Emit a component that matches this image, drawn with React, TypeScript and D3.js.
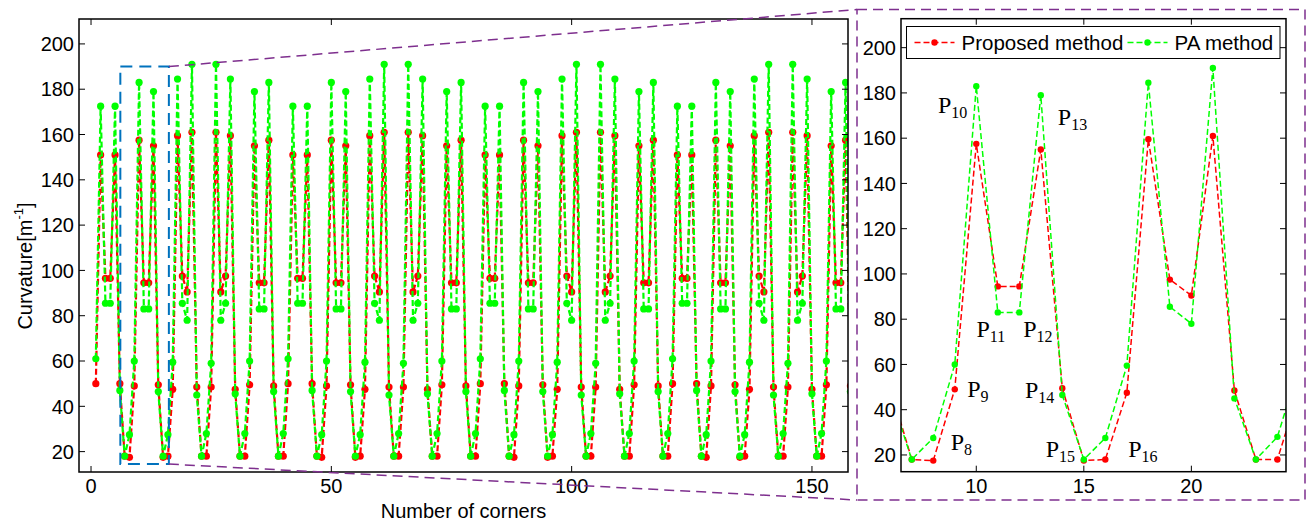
import React, { useRef, useEffect } from "react";
import * as d3 from "d3";

// curvature at every corner (corner number = index + 1)
const proposed = [
  50, 151, 96.5, 96.5, 151, 50,
  18, 17.5, 49, 157.5, 94.5, 94.5, 155, 49.5,
  17.5, 18, 47.5, 159.5, 97.5, 90.5, 161, 48.5,
  18, 18, 48.5, 161, 90.5, 97.5, 159.5, 47.5,
  18, 18, 49.5, 155, 94.5, 94.5, 157.5, 49,
  18, 18, 50, 151, 96.5, 96.5, 151, 50,
  18, 17.5, 49, 157.5, 94.5, 94.5, 155, 49.5,
  17.5, 18, 47.5, 159.5, 97.5, 90.5, 161, 48.5,
  18, 18, 48.5, 161, 90.5, 97.5, 159.5, 47.5,
  18, 18, 49.5, 155, 94.5, 94.5, 157.5, 49,
  18, 18, 50, 151, 96.5, 96.5, 151, 50,
  18, 17.5, 49, 157.5, 94.5, 94.5, 155, 49.5,
  17.5, 18, 47.5, 159.5, 97.5, 90.5, 161, 48.5,
  18, 18, 48.5, 161, 90.5, 97.5, 159.5, 47.5,
  18, 18, 49.5, 155, 94.5, 94.5, 157.5, 49,
  18, 18, 50, 151, 96.5, 96.5, 151, 50,
  18, 17.5, 49, 157.5, 94.5, 94.5, 155, 49.5,
  17.5, 18, 47.5, 159.5, 97.5, 90.5, 161, 48.5,
  18, 18, 48.5, 161, 90.5, 97.5, 159.5, 47.5,
  18, 18, 49.5, 155, 94.5, 94.5, 157.5, 49,
];

const paMethod = [
  61, 172.5, 85.5, 85.5, 172.5, 47,
  18, 27.5, 60, 183, 83, 83, 179, 46.5,
  18, 27.5, 59.5, 184.5, 85.5, 78, 191, 45,
  18, 28, 59, 191, 78, 85.5, 184.5, 45.5,
  18, 28, 60, 179, 83, 83, 183, 46.5,
  18, 28, 61, 172.5, 85.5, 85.5, 172.5, 47,
  18, 27.5, 60, 183, 83, 83, 179, 46.5,
  18, 27.5, 59.5, 184.5, 85.5, 78, 191, 45,
  18, 28, 59, 191, 78, 85.5, 184.5, 45.5,
  18, 28, 60, 179, 83, 83, 183, 46.5,
  18, 28, 61, 172.5, 85.5, 85.5, 172.5, 47,
  18, 27.5, 60, 183, 83, 83, 179, 46.5,
  18, 27.5, 59.5, 184.5, 85.5, 78, 191, 45,
  18, 28, 59, 191, 78, 85.5, 184.5, 45.5,
  18, 28, 60, 179, 83, 83, 183, 46.5,
  18, 28, 61, 172.5, 85.5, 85.5, 172.5, 47,
  18, 27.5, 60, 183, 83, 83, 179, 46.5,
  18, 27.5, 59.5, 184.5, 85.5, 78, 191, 45,
  18, 28, 59, 191, 78, 85.5, 184.5, 45.5,
  18, 28, 60, 179, 83, 83, 183, 46.5,
];

const seriesNames = ["Proposed method", "PA method"];
const seriesColors = ["#ff0000", "#00ff00"];

const yTicks = [20, 40, 60, 80, 100, 120, 140, 160, 180, 200];
const mainXTicks = [0, 50, 100, 150];
const zoomXTicks = [10, 15, 20];

// point labels in the zoomed panel (data coords)
const pointLabels = [
  { sub: "8", x: 8.81, y: 22.2 },
  { sub: "9", x: 9.58, y: 45.8 },
  { sub: "10", x: 8.22, y: 171 },
  { sub: "11", x: 10.01, y: 72.3 },
  { sub: "12", x: 12.18, y: 72.3 },
  { sub: "13", x: 13.79, y: 165.8 },
  { sub: "14", x: 12.26, y: 45.2 },
  { sub: "15", x: 13.23, y: 19.3 },
  { sub: "16", x: 17.06, y: 19.3 },
];

// area of the main plot that is blown up on the right
const zoomArea = { x0: 6.1, x1: 16.2, y0: 14.5, y1: 190 };

const sans = "'Liberation Sans', Arial, Helvetica, sans-serif";
const serif = "'Liberation Serif', 'Times New Roman', serif";

function drawPanel(svg, o) {
  const x = d3.scaleLinear().domain(o.xDomain).range([o.left, o.right]);
  const y = d3.scaleLinear().domain(o.yDomain).range([o.bottom, o.top]);
  const g = svg.append("g");

  g.append("clipPath")
    .attr("id", o.id)
    .append("rect")
    .attr("x", o.left)
    .attr("y", o.top)
    .attr("width", o.right - o.left)
    .attr("height", o.bottom - o.top);

  g.append("rect")
    .attr("x", o.left)
    .attr("y", o.top)
    .attr("width", o.right - o.left)
    .attr("height", o.bottom - o.top)
    .attr("fill", "#fff");

  const plot = g.append("g").attr("clip-path", `url(#${o.id})`);
  [proposed, paMethod].forEach((vals, k) => {
    const pts = vals.map((v, i) => [i + 1, v]);
    plot
      .append("path")
      .attr("d", d3.line().x((d) => x(d[0])).y((d) => y(d[1]))(pts))
      .attr("fill", "none")
      .attr("stroke", seriesColors[k])
      .attr("stroke-width", o.lineWidth)
      .attr("stroke-dasharray", o.dash);
    plot
      .append("g")
      .selectAll("circle")
      .data(pts)
      .join("circle")
      .attr("cx", (d) => x(d[0]))
      .attr("cy", (d) => y(d[1]))
      .attr("r", o.radius)
      .attr("fill", seriesColors[k]);
  });

  // ticks, inward on all four sides
  const ax = g.append("g").attr("stroke", "#000").attr("stroke-width", 1);
  yTicks.forEach((t) => {
    ax.append("line").attr("x1", o.left).attr("x2", o.left + 6).attr("y1", y(t)).attr("y2", y(t));
    ax.append("line").attr("x1", o.right - 6).attr("x2", o.right).attr("y1", y(t)).attr("y2", y(t));
    g.append("text")
      .attr("x", o.left - 5)
      .attr("y", y(t))
      .attr("dy", "0.36em")
      .attr("text-anchor", "end")
      .attr("font-family", sans)
      .attr("font-size", 20)
      .text(t);
  });
  o.xTicks.forEach((t) => {
    ax.append("line").attr("x1", x(t)).attr("x2", x(t)).attr("y1", o.bottom).attr("y2", o.bottom - 6);
    ax.append("line").attr("x1", x(t)).attr("x2", x(t)).attr("y1", o.top).attr("y2", o.top + 6);
    g.append("text")
      .attr("x", x(t))
      .attr("y", o.bottom + 21)
      .attr("text-anchor", "middle")
      .attr("font-family", sans)
      .attr("font-size", 20)
      .text(t);
  });

  g.append("rect")
    .attr("x", o.left)
    .attr("y", o.top)
    .attr("width", o.right - o.left)
    .attr("height", o.bottom - o.top)
    .attr("fill", "none")
    .attr("stroke", "#000")
    .attr("stroke-width", 1.5);

  return { x, y, g };
}

function App() {
  const svgRef = useRef(null);

  useEffect(() => {
    const svg = d3.select(svgRef.current);
    svg.selectAll("*").remove();

    const main = drawPanel(svg, {
      id: "clipMain",
      left: 79,
      right: 848,
      top: 19,
      bottom: 472,
      xDomain: [-2.5, 157.5],
      yDomain: [11, 211],
      xTicks: mainXTicks,
      lineWidth: 2.2,
      radius: 3.6,
      dash: "6,3",
    });

    svg
      .append("text")
      .attr("x", 463.5)
      .attr("y", 518)
      .attr("text-anchor", "middle")
      .attr("font-family", sans)
      .attr("font-size", 20)
      .text("Number of corners");

    const yl = svg
      .append("text")
      .attr("transform", "translate(32,266) rotate(-90)")
      .attr("text-anchor", "middle")
      .attr("font-family", sans)
      .attr("font-size", 20);
    yl.append("tspan").text("Curvature[m");
    yl.append("tspan").attr("font-size", 13).attr("dy", -9).text("-1");
    yl.append("tspan").attr("dy", 9).text("]");

    // zoom window on the main plot and connectors to the inset frame
    const frame = { left: 857, right: 1305, top: 9.5, bottom: 500 };
    const zx0 = main.x(zoomArea.x0);
    const zx1 = main.x(zoomArea.x1);
    const zy0 = main.y(zoomArea.y1);
    const zy1 = main.y(zoomArea.y0);
    svg
      .append("rect")
      .attr("x", zx0)
      .attr("y", zy0)
      .attr("width", zx1 - zx0)
      .attr("height", zy1 - zy0)
      .attr("fill", "none")
      .attr("stroke", "#0072bd")
      .attr("stroke-width", 2)
      .attr("stroke-dasharray", "12,7");

    const purple = "#7e2f8e";
    [
      [zx1, zy0, frame.left, frame.top],
      [zx1, zy1, frame.left, frame.bottom],
    ].forEach(([a, b, c, d]) => {
      svg
        .append("line")
        .attr("x1", a)
        .attr("y1", b)
        .attr("x2", c)
        .attr("y2", d)
        .attr("stroke", purple)
        .attr("stroke-width", 1.5)
        .attr("stroke-dasharray", "10,6");
    });
    svg
      .append("rect")
      .attr("x", frame.left)
      .attr("y", frame.top)
      .attr("width", frame.right - frame.left)
      .attr("height", frame.bottom - frame.top)
      .attr("fill", "#fff")
      .attr("stroke", purple)
      .attr("stroke-width", 1.5)
      .attr("stroke-dasharray", "10,6");

    const inset = drawPanel(svg, {
      id: "clipZoom",
      left: 901,
      right: 1286,
      top: 18.7,
      bottom: 471.7,
      xDomain: [6.5, 24.4],
      yDomain: [12.6, 212.8],
      xTicks: zoomXTicks,
      lineWidth: 1.5,
      radius: 3.2,
      dash: "6,3",
    });

    // point labels
    pointLabels.forEach((p) => {
      const t = inset.g
        .append("text")
        .attr("x", inset.x(p.x))
        .attr("y", inset.y(p.y))
        .attr("font-family", serif)
        .attr("font-size", 24);
      t.append("tspan").text("P");
      t.append("tspan").attr("font-size", 16).attr("dy", 5).text(p.sub);
    });

    // legend
    const lg = inset.g.append("g").attr("transform", "translate(906.5,26.5)");
    lg.append("rect")
      .attr("width", 373.5)
      .attr("height", 32)
      .attr("fill", "#fff")
      .attr("stroke", "#000")
      .attr("stroke-width", 1);
    const itemX = [8, 221];
    seriesNames.forEach((name, k) => {
      const it = lg.append("g").attr("transform", `translate(${itemX[k]},16)`);
      it.append("line")
        .attr("x1", 0)
        .attr("x2", 40)
        .attr("stroke", seriesColors[k])
        .attr("stroke-width", 1.5)
        .attr("stroke-dasharray", "6,3");
      it.append("circle").attr("cx", 20).attr("r", 3.2).attr("fill", seriesColors[k]);
      it.append("text")
        .attr("x", 47)
        .attr("dy", "0.36em")
        .attr("font-family", sans)
        .attr("font-size", 20.5)
        .text(name);
    });
  }, []);

  return (
    <svg
      ref={svgRef}
      width={1307}
      height={528}
      style={{ position: "absolute", left: 0, top: 0, background: "#fff" }}
    />
  );
}

export default App;
